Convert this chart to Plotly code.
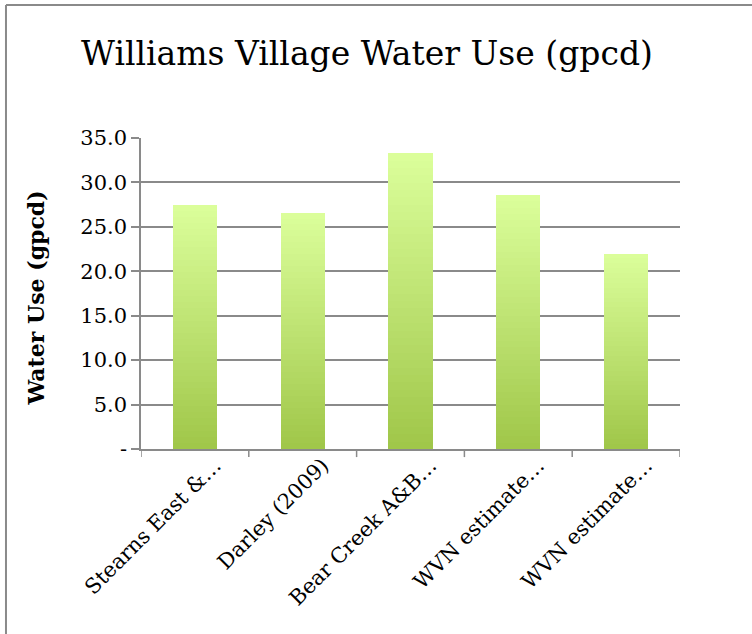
import plotly.graph_objects as go

categories = ["Stearns East &…", "Darley (2009)", "Bear Creek A&B…", "WVN estimate…", "WVN estimate…"]
values = [27.5, 26.6, 33.3, 28.6, 22.0]
tick_values = [0, 5, 10, 15, 20, 25, 30, 35]
tick_labels = ["-", "5.0", "10.0", "15.0", "20.0", "25.0", "30.0", "35.0"]

x_pos = list(range(len(categories)))

# vertical gradient per bar: stack thin slices of each bar, dark at bottom, light at top
N = 40
c_bot = (160, 199, 74)
c_top = (219, 254, 154)
fig = go.Figure()
for i in range(N):
    t = i / (N - 1)
    col = "rgb(%d,%d,%d)" % tuple(round(c_bot[k] + (c_top[k] - c_bot[k]) * t) for k in range(3))
    fig.add_trace(go.Bar(
        x=x_pos, y=[v / N for v in values], width=0.41,
        marker=dict(color=col, line=dict(width=0)),
        showlegend=False, hoverinfo="skip",
    ))

serif = "DejaVu Serif, Liberation Serif, serif"
grid = "#8a8a8a"
fig.update_layout(
    barmode="stack",
    width=752, height=634,
    margin=dict(l=141, r=72, t=138, b=185),
    paper_bgcolor="white", plot_bgcolor="white",
    font=dict(family=serif, color="black"),
    title=dict(text="Williams Village Water Use (gpcd)", x=0.488, xref="container",
               y=0.916, yref="container", yanchor="middle", xanchor="center",
               font=dict(size=33, family=serif, color="black")),
    xaxis=dict(range=[-0.5, 4.5], tickmode="array", tickvals=x_pos, ticktext=categories,
               tickangle=-45, tickfont=dict(size=21), showgrid=False,
               ticklabelshift=20, ticklabelstandoff=-6,
               showline=True, linecolor=grid, linewidth=1.5, ticks="", zeroline=False),
    yaxis=dict(range=[0, 35], tickmode="array", tickvals=tick_values, ticktext=tick_labels,
               tickfont=dict(size=21), showgrid=True, gridcolor=grid, gridwidth=1.5,
               showline=True, linecolor=grid, linewidth=1.5, ticks="outside",
               ticklen=8, tickcolor=grid, tickwidth=1.5, zeroline=False,
               ticklabelstandoff=0),
    bargap=0.59,
)

# y-axis title
fig.add_annotation(text="<b>Water Use (gpcd)</b>", xref="paper", yref="paper",
                   x=-0.195, y=0.487, xanchor="center", yanchor="middle",
                   textangle=-90, showarrow=False, font=dict(size=22, family=serif, color="black"))

# category boundary tick marks on x axis
for b in [-0.5, 0.5, 1.5, 2.5, 3.5, 4.5]:
    fig.add_shape(type="line", xref="x", yref="paper", x0=b, x1=b, y0=0, y1=-0.026,
                  line=dict(color=grid, width=1.5))

# chart-area border (left and top edges visible)
fig.add_shape(type="line", xref="paper", yref="paper", x0=-0.2505, x1=-0.2505, y0=-0.6, y1=1.4277,
              line=dict(color=grid, width=2))
fig.add_shape(type="line", xref="paper", yref="paper", x0=-0.2505, x1=1.2, y0=1.4277, y1=1.4277,
              line=dict(color=grid, width=2))

fig.write_html("out.html", config={"displayModeBar": False},
               post_script="document.body.style.margin='0';")
